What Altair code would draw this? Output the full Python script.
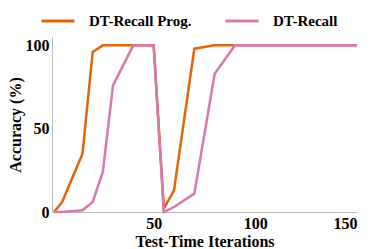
import altair as alt
import pandas as pd

iters = [1, 5, 15, 20, 25, 30, 40, 50, 55, 60, 70, 80, 90, 100, 110, 120, 130, 140, 150]
prog = [0, 6, 35, 96, 100, 100, 100, 100, 2, 13, 98, 100, 100, 100, 100, 100, 100, 100, 100]
recall = [0, 0, 1, 6, 24, 76, 100, 100, 0, 3, 11, 83, 100, 100, 100, 100, 100, 100, 100]
series_names = ["DT-Recall Prog.", "DT-Recall"]
colors = ["#E0650B", "#D57AAD"]

rows = []
for name, vals in zip(series_names, [prog, recall]):
    for x, y in zip(iters, vals):
        rows.append({"iter": x, "acc": y, "series": name})
df = pd.DataFrame(rows)

FONT = "Liberation Serif"

color = alt.Color(
    "series:N",
    scale=alt.Scale(domain=series_names, range=colors),
    legend=alt.Legend(
        orient="none", legendX=-12, legendY=-34, direction="horizontal",
        title=None, symbolType="stroke", symbolSize=1089, symbolStrokeWidth=3,
        labelFont=FONT, labelFontWeight="bold", labelFontSize=15, labelColor="#000",
        labelOffset=13, columnPadding=27, padding=0,
    ),
)

base = alt.Chart(df).mark_line(strokeWidth=2.5).encode(
    x=alt.X("iter:Q", scale=alt.Scale(domain=[0, 150], nice=False),
            axis=alt.Axis(values=[50, 100, 150], title="Test-Time Iterations", titlePadding=2)),
    y=alt.Y("acc:Q", scale=alt.Scale(domain=[0, 105], nice=False),
            axis=alt.Axis(values=[0, 50, 100], title="Accuracy (%)", titlePadding=2)),
    color=color,
)

l1 = base.transform_filter(alt.datum.series == series_names[0])
l2 = base.transform_filter(alt.datum.series == series_names[1])

chart = alt.layer(l1, l2).properties(
    width=305, height=175,
    padding={"left": 44, "top": 29, "right": 9, "bottom": 37},
    autosize="none",
).configure(font=FONT).configure_view(stroke=None).configure_axis(
    domainColor="#bbbbbb", domainWidth=1, ticks=False, grid=False,
    labelFont=FONT, labelFontWeight="bold", labelFontSize=16, labelColor="#000", labelPadding=3,
    titleFont=FONT, titleFontWeight="bold", titleFontSize=16, titleColor="#000",
).configure_legend(labelFont=FONT, labelFontWeight="bold")

chart.save("out.html", embed_options={"renderer": "svg", "actions": False})
